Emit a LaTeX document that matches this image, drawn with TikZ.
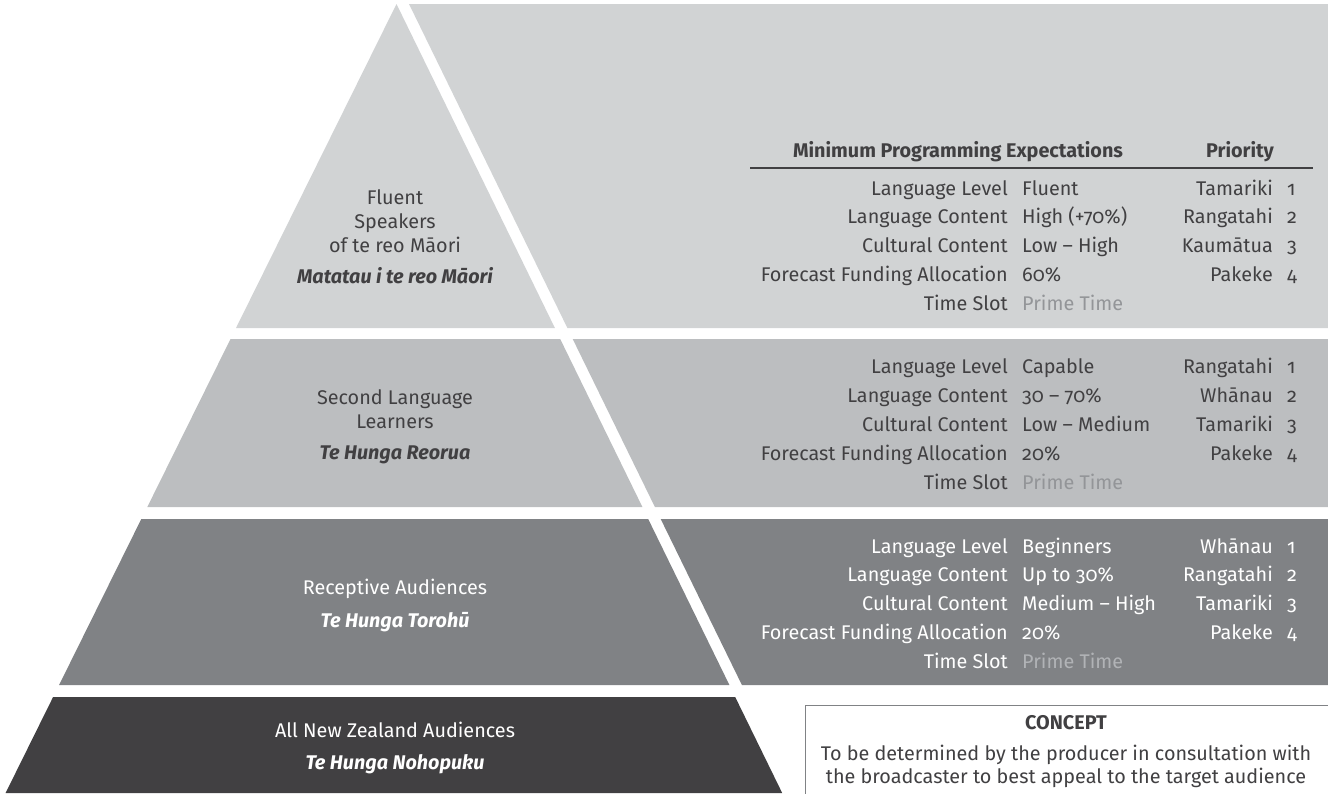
\documentclass[tikz,border=0pt]{standalone}
\usepackage{fontspec}
\setmainfont{Fira Sans}[Numbers=OldStyle]
\definecolor{bandA}{HTML}{D1D3D4}
\definecolor{bandB}{HTML}{BCBEC0}
\definecolor{bandC}{HTML}{808285}
\definecolor{bandD}{HTML}{414042}
\definecolor{txt}{HTML}{414042}
\definecolor{primeA}{HTML}{939598}
\definecolor{primeC}{HTML}{B1B3B6}
\definecolor{boxline}{HTML}{808285}
\newcommand\mytabfont{\fontsize{19.8}{23}\selectfont}
\tikzset{
  t/.style={inner sep=0pt, font=\mytabfont},
  lbl/.style={t, anchor=base east},
  val/.style={t, anchor=base west},
  side/.style={t, anchor=base, align=center},
  hdr/.style={t, anchor=base, font=\mytabfont\bfseries},
  sub/.style={t, anchor=base, font=\mytabfont\bfseries\itshape},
}
\begin{document}
\begin{tikzpicture}[x=1pt,y=-1pt]
\useasboundingbox (0,0) rectangle (1328,793);
\clip (0,0) rectangle (1328,793);
% pyramid (left pieces)
\fill[bandA] (396.5,4) -- (554.9,328) -- (236.0,328) -- cycle;
\fill[bandB] (230.5,339) -- (560.2,339) -- (642.4,507) -- (147.3,507) -- cycle;
\fill[bandC] (141.3,519) -- (648.2,519) -- (729.4,685) -- (59.1,685) -- cycle;
\fill[bandD] (53.1,697) -- (735.2,697) -- (782.2,793) -- (5.6,793) -- cycle;
% right panels
\fill[bandA] (409,4) -- (1328,4) -- (1328,328) -- (567.4,328) -- cycle;
\fill[bandB] (572.7,339) -- (1328,339) -- (1328,507) -- (654.9,507) -- cycle;
\fill[bandC] (660.7,519) -- (1328,519) -- (1328,685) -- (741.9,685) -- cycle;
% left texts
\node[side, text=txt] (f1) at (395,204) {Fluent};
\node[side, text=txt] (f2) at (395,228) {Speakers};
\node[side, text=txt] (f3) at (395,252) {of te reo Māori};
\node[sub, text=txt] (f4) at (395,283) {Matatau i te reo Māori};
\node[side, text=txt] (s1) at (395,404) {Second Language};
\node[side, text=txt] (s2) at (395,428) {Learners};
\node[sub, text=txt] (s3) at (395,459) {Te Hunga Reorua};
\node[side, text=white] (r1) at (395,594) {Receptive Audiences};
\node[sub, text=white] (r2) at (395,627) {Te Hunga Torohū};
\node[side, text=white] (n1) at (395,737) {All New Zealand Audiences};
\node[sub, text=white] (n2) at (395,769) {Te Hunga Nohopuku};
% header
\node[hdr, text=txt] (hmin) at (958,157) {Minimum Programming Expectations};
\node[hdr, text=txt] (hpri) at (1240,157) {Priority};
\coordinate (rl) at (750,168);
\coordinate (rr) at (1313,168);
\draw[txt, line width=1.1pt] (rl) -- (rr);
% band 1 table
\foreach \l/\v/\p/\n [count=\i from 0] in {Language Level/Fluent/Tamariki/1, Language Content/High (+70\%)/Rangatahi/2, Cultural Content/Low – High/Kaumātua/3, Forecast Funding Allocation/60\%/Pakeke/4}{
  \node[lbl, text=txt] (al\i) at (1008,195+28.8*\i) {\l};
  \node[val, text=txt] (av\i) at (1022,195+28.8*\i) {\v};
  \node[lbl, text=txt] (ap\i) at (1273,195+28.8*\i) {\p};
  \node[val, text=txt] (an\i) at (1287,195+28.8*\i) {\n};
}
\node[lbl, text=txt] (al4) at (1008,310.2) {Time Slot};
\node[val, text=primeA] (av4) at (1022,310.2) {Prime Time};
% band 2 table
\foreach \l/\v/\p/\n [count=\i from 0] in {Language Level/Capable/Rangatahi/1, Language Content/30 – 70\%/Whānau/2, Cultural Content/Low – Medium/Tamariki/3, Forecast Funding Allocation/20\%/Pakeke/4}{
  \node[lbl, text=txt] (bl\i) at (1008,373+29*\i) {\l};
  \node[val, text=txt] (bv\i) at (1022,373+29*\i) {\v};
  \node[lbl, text=txt] (bp\i) at (1273,373+29*\i) {\p};
  \node[val, text=txt] (bn\i) at (1287,373+29*\i) {\n};
}
\node[lbl, text=txt] (bl4) at (1008,489) {Time Slot};
\node[val, text=primeA] (bv4) at (1022,489) {Prime Time};
% band 3 table
\foreach \l/\v/\p/\n [count=\i from 0] in {Language Level/Beginners/Whānau/1, Language Content/Up to 30\%/Rangatahi/2, Cultural Content/Medium – High/Tamariki/3, Forecast Funding Allocation/20\%/Pakeke/4}{
  \node[lbl, text=white] (cl\i) at (1008,553+28.8*\i) {\l};
  \node[val, text=white] (cv\i) at (1022,553+28.8*\i) {\v};
  \node[lbl, text=white] (cp\i) at (1273,553+28.8*\i) {\p};
  \node[val, text=white] (cn\i) at (1287,553+28.8*\i) {\n};
}
\node[lbl, text=white] (cl4) at (1008,668) {Time Slot};
\node[val, text=primeC] (cv4) at (1022,668) {Prime Time};
% concept box
\draw[boxline, line width=1.2pt, fill=white] (805.5,705.5) rectangle (1340,810);
\node[hdr, text=txt] (ct) at (1066,729) {CONCEPT};
\node[side, text=txt] (c1) at (1066,760) {To be determined by the producer in consultation with};
\node[side, text=txt] (c2) at (1066,783) {the broadcaster to best appeal to the target audience};
\end{tikzpicture}
\end{document}
